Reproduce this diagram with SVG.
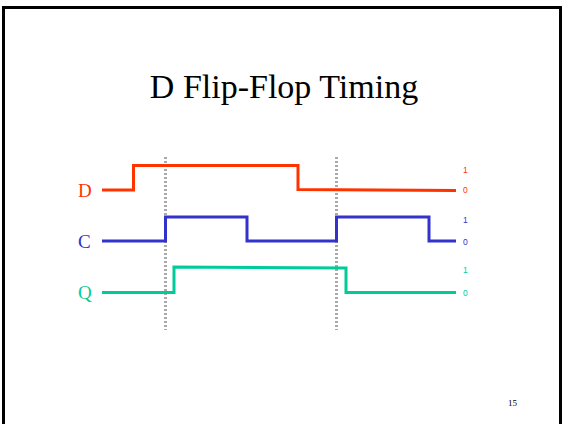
<svg xmlns="http://www.w3.org/2000/svg" width="564" height="424" viewBox="0 0 564 424">
<style>
.sig{fill:none;stroke-width:3;stroke-linejoin:miter}
.lbl{font-family:"Liberation Serif",serif;font-size:19px}
.lv{font-family:"Liberation Sans",sans-serif;font-size:8.5px}
.grid{stroke:#aaaaaa;stroke-width:3;stroke-dasharray:2,2}
</style>
<rect x="0" y="0" width="564" height="424" fill="#fff"/>
<rect x="3.5" y="7.5" width="557" height="430" fill="none" stroke="#000" stroke-width="3"/>
<text x="284" y="98" text-anchor="middle" font-family="Liberation Serif,serif" font-size="34">D Flip-Flop Timing</text>
<g id="guides">
<line class="grid" x1="165.5" y1="157" x2="165.5" y2="330"/>
<line class="grid" x1="336.5" y1="157" x2="336.5" y2="330"/>
</g>
<g id="signal-D">
<text class="lbl" x="78" y="197" fill="#ff3300">D</text>
<polyline class="sig" stroke="#ff3300" points="102,190 133.5,190 133.5,165.5 298,165.5 298,189.5 456,190.5"/>
<text class="lv" x="463" y="173" fill="#ff3300">1</text>
<text class="lv" x="463" y="193" fill="#ff3300">0</text>
</g>
<g id="signal-C">
<text class="lbl" x="78" y="248" fill="#3333cc">C</text>
<polyline class="sig" stroke="#3333cc" points="102,241 165.5,241 165.5,217 247,217 247,241 336.5,241 336.5,217 429,217 429,241 456,241"/>
<text class="lv" x="463" y="223" fill="#3333cc">1</text>
<text class="lv" x="463" y="245" fill="#3333cc">0</text>
</g>
<g id="signal-Q">
<text class="lbl" x="78" y="299" fill="#00cc99">Q</text>
<polyline class="sig" stroke="#00cc99" points="102,292.5 174,292.5 174,267 346,268 346,292.5 456,292.5"/>
<text class="lv" x="463" y="273" fill="#00cc99">1</text>
<text class="lv" x="463" y="296" fill="#00cc99">0</text>
</g>
<text x="508" y="406" font-family="Liberation Serif,serif" font-size="9" fill="#000">15</text>
</svg>
